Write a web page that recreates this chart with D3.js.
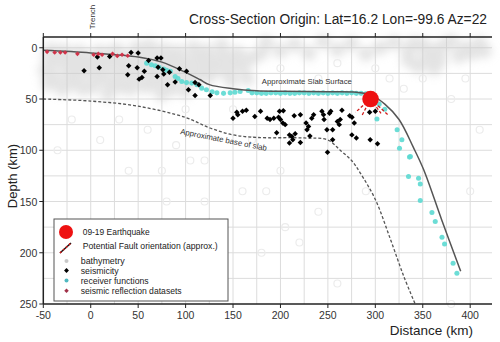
<!DOCTYPE html>
<html><head><meta charset="utf-8">
<script src="https://cdn.jsdelivr.net/npm/d3@7"></script>
<style>body{margin:0;background:#fff}svg{display:block;font-family:"Liberation Sans",Arial,sans-serif}</style>
</head><body>
<svg id="c" width="500" height="342"></svg>
<script>
const xTicks=[-50,0,50,100,150,200,250,300,350,400];
const yTicks=[0,50,100,150,200,250];
const slabSurface=[[-50,2.5],[0,5],[50,9],[75,14],[100,24],[115,31],[125,36],[150,40],[175,42],[200,42.5],[250,43],[280,43.5],[295,46],[310,55],[325,70],[340,97],[351,119],[370,168],[390,218]];
const slabBase=[[-50,50],[0,52],[50,57],[100,68],[125,78],[150,85],[175,87.5],[225,88],[250,90],[263,100],[275,110],[284,122],[300,148],[316,187],[330,223],[342,250]];
const earthquake=[[295,50]];
const faultLines=[[[295,50],[279,63]],[[295,50],[314,66]],[[295,50],[286,66]],[[295,50],[306,64]]];
const reflection=[[-38,4.6],[-32,4.6],[-27,4.6],[-14,5.9],[3,6.8],[12,6.8],[23,5.9],[33,6.8],[39,7.8],[28,8],[-46,4],[8,6]];
const seismicity=[[-7,22.5],[7,9],[9,19.5],[20,8.5],[39,26.4],[40,17.6],[42.5,4.6],[49,19.5],[50,5.2],[51,30.6],[54,29],[56.5,23],[61,12.4],[70,10],[70,28],[74,10],[71,19],[76,21.5],[77,25.7],[81,36],[83,24],[89,33.5],[93.5,20.5],[101,23],[103,41],[110,34],[114,36],[110,46.6],[126,46.6],[150,68.7],[154,63],[155,65.4],[160,62],[164,61],[173,67],[179,62],[186,68.7],[189,70],[193,68.7],[199,62],[198,67.7],[200,70],[202.5,73.5],[205,75],[203,61.5],[214.5,66.4],[221,65.4],[196,83],[209.5,85],[212,86.6],[215.5,84],[213,89.8],[209.5,93],[221,92.5],[228,80],[229.6,76.9],[227,73.5],[233,68.7],[235,65.4],[231,86],[243.7,62],[245.4,65.4],[246,70],[251.7,63.8],[253,62],[249,80],[255,80],[249.6,102],[255,89.8],[262,75],[263,70],[264.8,61],[260,72],[273,66.4],[275.4,67.7],[277.8,73.5],[275.3,85],[280,88],[294.6,89.8],[302.3,93.7],[294,63],[300,62]];
const receiver=[[59,15],[64,16.6],[68,17.6],[72,19],[77,20.8],[80,22],[84,23],[89,28],[92,30],[96,33],[101,34],[106.5,34.5],[112,36],[117,39.4],[122,41],[128,43],[133,44],[140,44.5],[147,44],[152,43.5],[157.5,42.7],[166,41.7],[170,44],[175,44],[180,44.5],[185,44.5],[190,44],[195,44],[200,44.5],[205,44],[210,44.5],[215,44.5],[220,44],[225,44],[230,44.5],[235,44],[240,44.5],[245,44],[250,44.5],[255,44],[260,44.5],[265,44],[270,44.5],[275,44],[280,44.5],[285,44.5],[290,45],[301.7,69.6],[304,55],[310,60],[323,80],[328,89.8],[325.5,98],[336,106.7],[335,125.6],[345.6,127.3],[337,106],[347.4,133],[347.4,149],[359.7,160.8],[363.2,169.6],[370.3,184.9],[373,191.4],[382,210.3],[386,220]];
const bathymetry=[[-45,8],[-40,15],[-35,5],[-30,12],[-25,20],[-20,8],[-15,15],[-10,25],[-5,10],[0,18],[5,28],[10,12],[15,20],[20,5],[25,15],[30,25],[35,10],[40,18],[45,30],[50,8],[55,15],[60,25],[65,5],[70,18],[75,30],[80,10],[85,20],[90,28],[95,12],[100,18],[105,30],[110,10],[115,22],[120,15],[125,28],[130,12],[135,20],[140,8],[145,25],[150,15],[155,5],[160,18],[-42,2],[-28,3],[-12,4],[8,4],[28,2],[48,0],[62,-2],[78,2],[92,4],[108,0],[122,3],[138,-2],[-38,30],[-18,35],[2,38],[22,35],[42,40],[58,38],[18,45],[-30,40],[85,40],[100,42],[-48,22],[-22,28],[12,30],[32,38],[52,22],[68,35],[88,10],[112,28],[128,20],[148,32],[165,30],[170,10],[180,5],[-8,40],[-45,35],[75,45],
[185,-5],[200,3],[215,-3],[230,5],[245,-6],[260,2],[275,-4],[290,6],[305,0],[320,-5],[335,3],[350,-3],[365,2],[380,-6],[395,0],[410,-4],[402,5],[388,8],[372,-2],[360,8],[415,3],[335,12],[345,18],[355,10],[362,20],[340,-4],[352,0],[368,12]];
const bathymetryScatter=[[-20,70],[10,90],[40,120],[80,150],[120,110],[160,140],[200,120],[240,160],[180,200],[130,180],[60,200],[100,60],[240,30],[300,20],[330,40],[380,50],[410,80],[400,140],[380,250],[260,230],[220,190],[170,90],[30,70],[-35,100],[150,60],[290,140],[350,30],[200,20],[60,80],[90,95],[105,110],[185,140],[120,150],[205,175],[75,120],[315,30],[260,15],[395,30]];

const svg=d3.select("#c");
const defs=svg.append("defs");
defs.append("filter").attr("id","blur").attr("x","-20%").attr("y","-20%").attr("width","140%").attr("height","140%")
 .append("feGaussianBlur").attr("stdDeviation",4);
const x=d3.scaleLinear().domain([-50,423]).range([43.3,492]);
const y=d3.scaleLinear().domain([-10.5,250]).range([37,304]);

// grid
const g=svg.append("g");
g.selectAll(".vg").data(d3.range(-25,425,25)).join("line")
 .attr("x1",d=>x(d)).attr("x2",d=>x(d)).attr("y1",y(-10.5)).attr("y2",y(250))
 .attr("stroke","#dcdcdc").attr("stroke-width",1);
g.selectAll(".hg").data(d3.range(0,250,25)).join("line")
 .attr("x1",x(-50)).attr("x2",x(423)).attr("y1",d=>y(d)).attr("y2",d=>y(d))
 .attr("stroke","#dcdcdc").attr("stroke-width",1);

// bathymetry cloud
svg.append("g").attr("filter","url(#blur)").attr("opacity",0.5).selectAll("circle").data(bathymetry).join("circle")
 .attr("cx",d=>x(d[0])).attr("cy",d=>y(d[1])).attr("r",7.5)
 .attr("fill","#c8c8c8");
svg.append("g").selectAll("circle").data(bathymetryScatter).join("circle")
 .attr("cx",d=>x(d[0])).attr("cy",d=>y(d[1])).attr("r",3.5)
 .attr("fill","none").attr("stroke","#ececec").attr("stroke-width",1.2);

const lineN=d3.line().x(d=>x(d[0])).y(d=>y(d[1])).curve(d3.curveCatmullRom);

svg.append("path").attr("d",lineN(slabBase)).attr("fill","none")
 .attr("stroke","#555").attr("stroke-width",1.3).attr("stroke-dasharray","3,2");

// receiver functions
svg.append("g").selectAll("path").data(receiver).join("path")
 .attr("transform",d=>`translate(${x(d[0])},${y(d[1])})`)
 .attr("d",d3.symbol(d3.symbolCircle,20)())
 .attr("fill","#5cd9d2").attr("opacity",0.9);

svg.append("path").attr("d",lineN(slabSurface)).attr("fill","none")
 .attr("stroke","#555").attr("stroke-width",1.5);

// seismicity
svg.append("g").selectAll("path").data(seismicity).join("path")
 .attr("transform",d=>`translate(${x(d[0])},${y(d[1])}) rotate(45)`)
 .attr("d",d3.symbol(d3.symbolSquare,15)())
 .attr("fill","#000");

// reflection
svg.append("g").selectAll("path").data(reflection).join("path")
 .attr("transform",d=>`translate(${x(d[0])},${y(d[1])}) rotate(45)`)
 .attr("d",d3.symbol(d3.symbolSquare,11)())
 .attr("fill","#d0344a");

// fault lines
faultLines.forEach(f=>{
 svg.append("line").attr("x1",x(f[0][0])).attr("y1",y(f[0][1])).attr("x2",x(f[1][0])).attr("y2",y(f[1][1]))
  .attr("stroke","#d01a1a").attr("stroke-width",1.3).attr("stroke-dasharray","3,2");
});
svg.append("g").selectAll("circle").data(earthquake).join("circle")
 .attr("cx",d=>x(d[0])).attr("cy",d=>y(d[1])).attr("r",8.3).attr("fill","#ee1111");

// annotations
svg.append("text").attr("x",x(180.4)).attr("y",84).attr("font-size",8).attr("fill","#333")
 .attr("textLength",90).attr("lengthAdjust","spacingAndGlyphs").text("Approximate Slab Surface");
svg.append("text").attr("transform","translate(180,134) rotate(11)").attr("font-size",8).attr("fill","#333")
 .attr("textLength",88).attr("lengthAdjust","spacingAndGlyphs").text("Approximate base of slab");
svg.append("text").attr("transform",`translate(${x(0)+4.5},17) rotate(-90)`).attr("text-anchor","middle")
 .attr("font-size",8).attr("fill","#333").text("Trench");

// axes
const ax=svg.append("g").attr("stroke","#222");
ax.append("line").attr("x1",x(-50)).attr("x2",x(-50)).attr("y1",y(-10.5)).attr("y2",y(250)).attr("stroke-width",1.5);
ax.append("line").attr("x1",x(-50)).attr("x2",x(423)).attr("y1",y(-10.5)).attr("y2",y(-10.5)).attr("stroke-width",1.5);
ax.append("line").attr("x1",x(-50)).attr("x2",x(423)).attr("y1",y(250)).attr("y2",y(250)).attr("stroke-width",1.5);
ax.selectAll(".yt").data(yTicks).join("line").attr("x1",x(-50)-4).attr("x2",x(-50)).attr("y1",d=>y(d)).attr("y2",d=>y(d)).attr("stroke-width",1);
ax.selectAll(".xt").data(xTicks).join("line").attr("x1",d=>x(d)).attr("x2",d=>x(d)).attr("y1",y(250)).attr("y2",y(250)+4).attr("stroke-width",1);
svg.append("g").selectAll("line").data(xTicks).join("line").attr("x1",d=>x(d)).attr("x2",d=>x(d)).attr("y1",y(-10.5)-4).attr("y2",y(-10.5)).attr("stroke","#222");

svg.append("g").selectAll("text").data(yTicks).join("text").attr("x",x(-50)-6).attr("y",d=>y(d)+4)
 .attr("text-anchor","end").attr("font-size",10.5).attr("fill","#333").text(d=>d);
svg.append("g").selectAll("text").data(xTicks).join("text").attr("x",d=>x(d)).attr("y",y(250)+15)
 .attr("text-anchor","middle").attr("font-size",10.5).attr("fill","#333").text(d=>d);

svg.append("text").attr("x",487).attr("y",24).attr("text-anchor","end").attr("font-size",14).attr("fill","#222")
 .attr("textLength",298).attr("lengthAdjust","spacingAndGlyphs")
 .text("Cross-Section Origin: Lat=16.2 Lon=-99.6 Az=22");
svg.append("text").attr("x",473).attr("y",335).attr("text-anchor","end").attr("font-size",13.5).attr("fill","#222").text("Distance (km)");
svg.append("text").attr("transform","translate(17,176) rotate(-90)").attr("text-anchor","middle").attr("font-size",13).attr("fill","#222").text("Depth (km)");

// legend
const lg=svg.append("g");
lg.append("rect").attr("x",54).attr("y",219).attr("width",174).attr("height",82).attr("fill","#fff").attr("stroke","#555").attr("stroke-width",1);
lg.append("circle").attr("cx",66).attr("cy",232).attr("r",7).attr("fill","#ee1111");
lg.append("line").attr("x1",60).attr("y1",253).attr("x2",71).attr("y2",243).attr("stroke","#111").attr("stroke-width",1.5);
lg.append("line").attr("x1",60).attr("y1",253).attr("x2",71).attr("y2",243).attr("stroke","#d01a1a").attr("stroke-width",1.5).attr("stroke-dasharray","2,2");
lg.append("circle").attr("cx",66.5).attr("cy",261).attr("r",2).attr("fill","#c8c8c8");
lg.append("path").attr("transform","translate(66.5,270.5) rotate(45)").attr("d",d3.symbol(d3.symbolSquare,12)()).attr("fill","#000");
lg.append("circle").attr("cx",66.5).attr("cy",280.5).attr("r",2).attr("fill","#4fb8c0");
lg.append("path").attr("transform","translate(66.5,290.7) rotate(45)").attr("d",d3.symbol(d3.symbolSquare,10)()).attr("fill","#a03048");
const items=[["09-19 Earthquake",82.7,235,67],["Potential Fault orientation (approx.)",82.7,249,135],["bathymetry",80.7,264,44],["seismicity",80.7,273.5,38],["receiver functions",80.7,283.5,68],["seismic reflection datasets",80.7,293.5,101]];
lg.selectAll("text").data(items).join("text").attr("x",d=>d[1]).attr("y",d=>d[2]).attr("font-size",9.5).attr("fill","#222")
 .attr("textLength",d=>d[3]).attr("lengthAdjust","spacingAndGlyphs").text(d=>d[0]);
</script>
</body></html>
